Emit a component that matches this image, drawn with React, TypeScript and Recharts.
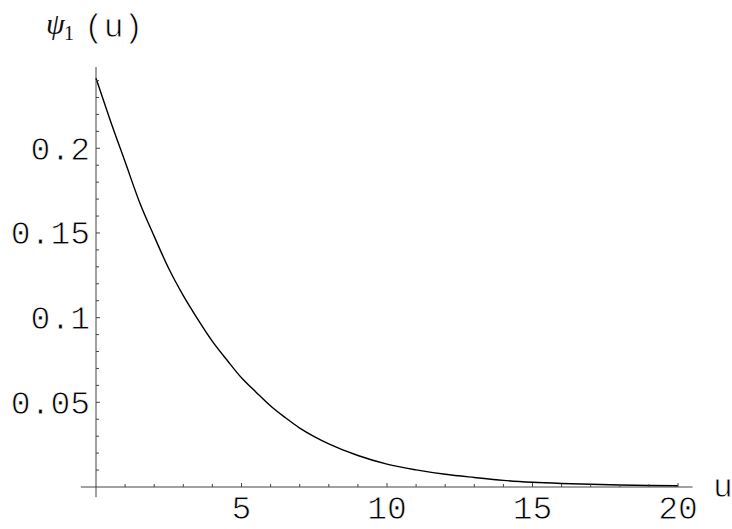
import React from "react";
import { LineChart, Line, XAxis, YAxis, ReferenceLine } from "recharts";

// sampled ruin probability psi_1(u)
const uValues = [
  0, 0.5, 1, 1.5, 2, 2.5, 3, 3.5, 4, 4.5, 5, 5.5, 6, 6.5, 7, 7.5, 8, 9, 10, 11,
  12, 13, 14, 15, 16, 17, 18, 19, 20,
];
const psiValues = [
  0.2414, 0.216, 0.192, 0.168, 0.148, 0.129, 0.113, 0.099, 0.086, 0.075,
  0.0645, 0.056, 0.0478, 0.041, 0.0348, 0.0298, 0.0255, 0.0186, 0.0135,
  0.0101, 0.0075, 0.0056, 0.0039, 0.0028, 0.0021, 0.0016, 0.0012, 0.0009,
  0.0007,
];

const xTicks = Array.from({ length: 20 }, (_, i) => i + 1);
const xLabels = [5, 10, 15, 20];
const yTicks = Array.from({ length: 24 }, (_, i) => (i + 1) / 100);
const yLabels = ["0.05", "0.1", "0.15", "0.2"];

const data = uValues.map((u, i) => ({ u, psi: psiValues[i] }));

const MONO = "'Liberation Mono', 'DejaVu Sans Mono', monospace";
const AXIS = "#444";

// white outline drawn over the glyphs to get a lighter stroke weight
const thin = { stroke: "#fff", strokeWidth: 0.8, fill: "#000" };

const XTick = (props: any) => {
  const { x, y, payload } = props;
  const major = xLabels.includes(payload.value);
  return (
    <g>
      <line x1={x} y1={y} x2={x} y2={y - (major ? 4 : 3)} stroke={AXIS} strokeWidth={1} />
      {major && (
        <text x={x} y={y + 32} textAnchor="middle" fontFamily={MONO} fontSize={33} {...thin}>
          {payload.value}
        </text>
      )}
    </g>
  );
};

const YTick = (props: any) => {
  const { x, y, payload } = props;
  const label = yLabels.find((l) => Math.abs(parseFloat(l) - payload.value) < 1e-6);
  return (
    <g>
      <line x1={x} y1={y} x2={x + (label ? 4 : 3)} y2={y} stroke={AXIS} strokeWidth={1} />
      {label && (
        <text x={x - 6} y={y + 11.5} textAnchor="end" fontFamily={MONO} fontSize={33} {...thin}>
          {label}
        </text>
      )}
    </g>
  );
};

export default function App() {
  return (
    <div style={{ position: "absolute", left: 0, top: 0, width: 732, height: 529, background: "#fff" }}>
      <LineChart
        width={732}
        height={529}
        data={data}
        margin={{ top: 67, right: 54, bottom: 12, left: 0 }}
      >
        <XAxis
          dataKey="u"
          type="number"
          domain={[0, 20]}
          ticks={xTicks}
          interval={0}
          axisLine={false}
          tickLine={false}
          tickSize={0}
          tickMargin={0}
          height={30}
          tick={<XTick />}
        />
        <YAxis
          type="number"
          domain={[0, 0.248]}
          ticks={yTicks}
          interval={0}
          axisLine={false}
          tickLine={false}
          tickSize={0}
          tickMargin={0}
          width={96}
          tick={<YTick />}
        />
        <ReferenceLine
          segment={[{ x: -0.52, y: 0 }, { x: 20.5, y: 0 }]}
          stroke={AXIS}
          strokeWidth={1}
          ifOverflow="visible"
        />
        <ReferenceLine
          segment={[{ x: 0, y: -0.006 }, { x: 0, y: 0.248 }]}
          stroke={AXIS}
          strokeWidth={1}
          ifOverflow="visible"
        />
        <Line
          type="monotone"
          dataKey="psi"
          stroke="#000"
          strokeWidth={1.4}
          dot={false}
          isAnimationActive={false}
        />
      </LineChart>
      <svg
        width={732}
        height={529}
        style={{ position: "absolute", left: 0, top: 0, pointerEvents: "none" }}
      >
        <text x={46} y={34} fontFamily="'Liberation Serif', serif" fontStyle="italic" fontSize={30} fill="#111">
          ψ
        </text>
        <text x={64} y={40} fontFamily="'Liberation Serif', serif" fontSize={20} fill="#111">
          1
        </text>
        <text x={84} y={37} fontFamily={MONO} fontSize={33} {...thin}>
          (u)
        </text>
        <text x={713} y={497} fontFamily={MONO} fontSize={33} {...thin}>
          u
        </text>
      </svg>
    </div>
  );
}
